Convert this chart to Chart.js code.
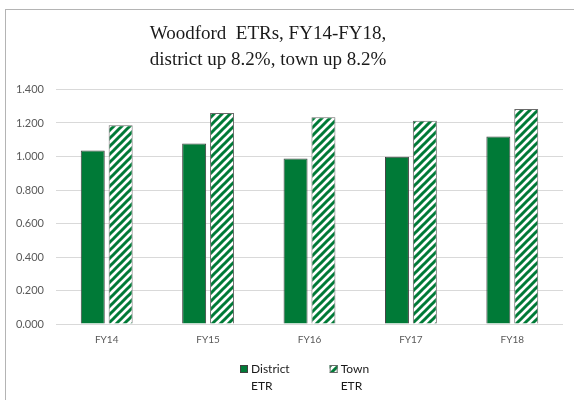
<!DOCTYPE html>
<html>
<head>
<meta charset="utf-8">
<script src="https://cdn.jsdelivr.net/npm/chart.js@4"></script>
<style>
  html, body { margin: 0; padding: 0; background: #fff; }
  #wrap { position: relative; width: 574px; height: 400px; }
</style>
</head>
<body>
<div id="wrap"><canvas id="etrChart" width="574" height="400"></canvas></div>
<script>
// Data
const years = ['FY14', 'FY15', 'FY16', 'FY17', 'FY18'];
const districtEtr = [1.036, 1.078, 0.988, 0.998, 1.120];
const townEtr = [1.186, 1.259, 1.235, 1.213, 1.283];
const titleLines = ['Woodford  ETRs, FY14-FY18,', 'district up 8.2%, town up 8.2%'];
const legendLabels = [['District', 'ETR'], ['Town', 'ETR']];

const GREEN = '#007A37';

// Diagonal stripe fill for the town bars
function makeStripes() {
    const c = document.createElement('canvas');
    c.width = 8;
    c.height = 8;
    const g = c.getContext('2d');
    g.fillStyle = '#fff';
    g.fillRect(0, 0, 8, 8);
    g.strokeStyle = GREEN;
    g.lineWidth = 3;
    g.beginPath();
    g.moveTo(-2, 10); g.lineTo(10, -2);
    g.moveTo(-6, 6); g.lineTo(6, -6);
    g.moveTo(2, 14); g.lineTo(14, 2);
    g.stroke();
    return g.createPattern(c, 'repeat');
}
const stripes = makeStripes();

// Outer frame like the spreadsheet chart border
const framePlugin = {
    id: 'frame',
    beforeDraw(chart) {
        const ctx = chart.ctx;
        ctx.save();
        ctx.fillStyle = '#fff';
        ctx.fillRect(0, 0, chart.width, chart.height);
        ctx.strokeStyle = '#b4b4b4';
        ctx.lineWidth = 1;
        ctx.strokeRect(5.5, 9.5, 700, 500);
        ctx.restore();
    }
};

// Title: two lines, a bit left of the canvas centre as in the original
const titlePlugin = {
    id: 'twoLineTitle',
    afterDraw(chart) {
        const ctx = chart.ctx;
        ctx.save();
        ctx.fillStyle = '#1a1a1a';
        ctx.font = '19px "Liberation Serif"';
        ctx.textAlign = 'center';
        ctx.textBaseline = 'alphabetic';
        const cx = 268;
        ctx.fillText(titleLines[0], cx, 39);
        ctx.fillText(titleLines[1], cx, 65);
        ctx.restore();
    }
};

// Legend under the axis, labels wrap onto two lines
const legendPlugin = {
    id: 'wrapLegend',
    afterDraw(chart) {
        const ctx = chart.ctx;
        const area = chart.chartArea;
        ctx.save();
        ctx.font = '12px Lato';
        ctx.textBaseline = 'middle';
        ctx.textAlign = 'left';
        const box = 8, gapText = 3, gapItem = 40;
        const widths = legendLabels.map(l => Math.max(...l.map(s => ctx.measureText(s).width)));
        let total = 0;
        widths.forEach((w, i) => { total += box + gapText + w + (i ? gapItem : 0); });
        let x = Math.round((area.left + area.right) / 2 - total / 2 - 5);
        const y = 369;
        chart.data.datasets.forEach((ds, i) => {
            ctx.fillStyle = ds.backgroundColor;
            ctx.fillRect(x, y - box / 2, box, box);
            ctx.strokeStyle = ds.borderColor;
            ctx.lineWidth = 1;
            ctx.strokeRect(x + 0.5, y - box / 2 + 0.5, box - 1, box - 1);
            ctx.fillStyle = '#1a1a1a';
            legendLabels[i].forEach((s, j) => ctx.fillText(s, x + box + gapText, y + j * 17));
            x += box + gapText + widths[i] + gapItem;
        });
        ctx.restore();
    }
};

new Chart(document.getElementById('etrChart'), {
    type: 'bar',
    data: {
        labels: years,
        datasets: [
            {
                label: 'District ETR',
                data: districtEtr,
                backgroundColor: GREEN,
                borderColor: '#404040',
                borderWidth: 1
            },
            {
                label: 'Town ETR',
                data: townEtr,
                backgroundColor: stripes,
                borderColor: '#6a6a6a',
                borderWidth: 1
            }
        ]
    },
    options: {
        responsive: false,
        animation: false,
        devicePixelRatio: 1,
        categoryPercentage: 0.55,
        barPercentage: 0.86,
        layout: { padding: { left: 0, right: 11, top: 89.5, bottom: 52 } },
        scales: {
            x: {
                grid: { display: false },
                border: { display: false },
                ticks: { color: '#595959', font: { family: 'Lato', size: 10 }, padding: 2 }
            },
            y: {
                min: 0,
                max: 1.4,
                ticks: {
                    stepSize: 0.2,
                    color: '#595959',
                    font: { family: 'Lato', size: 11 },
                    padding: 12,
                    callback: v => v.toFixed(3)
                },
                grid: { color: '#d9d9d9', drawTicks: false },
                border: { display: false },
                afterFit(scale) { scale.width = 56; }
            }
        },
        plugins: {
            title: { display: false },
            legend: { display: false },
            tooltip: { enabled: false }
        }
    },
    plugins: [framePlugin, titlePlugin, legendPlugin]
});
</script>
</body>
</html>
